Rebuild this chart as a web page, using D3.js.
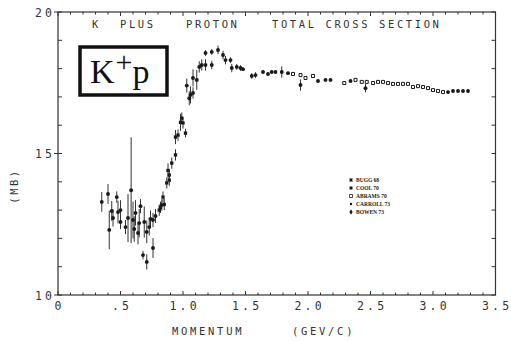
<!DOCTYPE html>
<html lang="en">
<head>
  <meta charset="UTF-8" />
  <title>K plus proton total cross section</title>
  <script src="https://d3js.org/d3.v7.min.js"></script>
  <style>
    body { margin: 0; background: #fff; }
    svg { display: block; }
    .lbl { font-family: 'DejaVu Sans Mono', monospace; fill: #333; }
    .leg { font-family: 'Liberation Serif', serif; font-size: 5.5px; font-weight: bold; fill: #222; }
  </style>
</head>
<body>
  <svg width="511" height="341"></svg>
  <script>
    // [momentum GeV/c, sigma mb, error mb]
    const bugg68 = [
      [0.35, 13.29, 0.35], [0.40, 13.57, 0.35], [0.41, 12.30, 0.68], [0.43, 12.97, 0.35],
      [0.44, 12.72, 0.30], [0.47, 13.46, 0.20], [0.48, 12.93, 0.40], [0.50, 13.00, 0.35],
      [0.50, 12.58, 0.25], [0.54, 12.40, 0.25], [0.56, 12.72, 0.85], [0.585, 13.70, 1.87],
      [0.60, 12.65, 0.65], [0.61, 12.33, 0.45], [0.62, 12.90, 0.45], [0.64, 12.19, 0.40],
      [0.65, 12.54, 0.50], [0.66, 13.14, 0.25], [0.68, 11.41, 0.15], [0.69, 12.58, 0.55],
      [0.71, 11.17, 0.27], [0.71, 12.23, 0.40], [0.73, 12.40, 0.30], [0.74, 12.69, 0.30],
      [0.76, 11.66, 0.35], [0.76, 12.65, 0.25], [0.78, 12.79, 0.25]
    ];
    const cool70 = [
      [0.81, 13.00, 0.20], [0.82, 13.10, 0.20], [0.83, 13.18, 0.20], [0.84, 13.46, 0.20],
      [0.85, 13.20, 0.20], [0.87, 13.96, 0.20], [0.88, 14.40, 0.25], [0.89, 14.06, 0.20],
      [0.89, 14.24, 0.20], [0.91, 14.66, 0.20], [0.94, 14.95, 0.20], [0.94, 15.58, 0.25],
      [0.96, 15.65, 0.20], [0.98, 16.10, 0.30], [0.99, 16.25, 0.20], [1.00, 16.08, 0.20],
      [1.02, 15.72, 0.15]
    ];
    const bowen73 = [
      [1.03, 17.40, 0.25], [1.05, 16.95, 0.25], [1.06, 17.07, 0.30], [1.08, 17.14, 0.20],
      [1.08, 17.67, 0.30], [1.11, 17.60, 0.35], [1.13, 18.06, 0.20], [1.15, 18.13, 0.20],
      [1.18, 18.13, 0.20], [1.18, 18.55, 0.10], [1.23, 18.59, 0.10], [1.23, 18.13, 0.15],
      [1.28, 18.66, 0.15], [1.32, 18.48, 0.15], [1.34, 18.30, 0.15], [1.38, 18.30, 0.10],
      [1.39, 18.02, 0.15], [1.43, 18.06, 0.10], [1.46, 18.02, 0.10], [1.48, 17.98, 0.05],
      [1.55, 17.74, 0.10], [1.58, 17.77, 0.10]
    ];
    const carroll73 = [
      [1.64, 17.88, 0.05], [1.68, 17.81, 0.05], [1.71, 17.88, 0.05], [1.74, 17.88, 0.05],
      [1.79, 17.88, 0.20], [1.84, 17.84, 0.05], [1.94, 17.42, 0.20], [2.08, 17.56, 0.05],
      [2.14, 17.60, 0.05], [2.18, 17.60, 0.05], [2.34, 17.56, 0.05], [2.46, 17.31, 0.15],
      [3.12, 17.17, 0.05], [3.16, 17.21, 0.05], [3.20, 17.21, 0.05], [3.24, 17.21, 0.05],
      [3.28, 17.21, 0.05]
    ];
    const abrams70 = [
      [1.88, 17.81, 0], [1.94, 17.77, 0], [1.98, 17.67, 0], [2.04, 17.74, 0],
      [2.29, 17.49, 0], [2.38, 17.60, 0], [2.43, 17.53, 0], [2.47, 17.53, 0],
      [2.52, 17.49, 0], [2.56, 17.53, 0], [2.60, 17.53, 0], [2.64, 17.49, 0],
      [2.68, 17.46, 0], [2.72, 17.46, 0], [2.76, 17.46, 0], [2.80, 17.46, 0],
      [2.84, 17.35, 0], [2.88, 17.38, 0], [2.92, 17.35, 0], [2.96, 17.31, 0],
      [3.00, 17.24, 0], [3.04, 17.21, 0], [3.08, 17.17, 0]
    ];
    const xTicks = [0, 0.5, 1.0, 1.5, 2.0, 2.5, 3.0, 3.5];
    const xTickLabels = ["0", ".5", "1.0", "1.5", "2.0", "2.5", "3.0", "3.5"];
    const yTicks = [10, 15, 20];
    const titleWords = [["K", 92], ["PLUS", 120], ["PROTON", 186], ["TOTAL CROSS SECTION", 272]];
    const xTitleWords = [["MOMENTUM", 172], ["(GEV/C)", 292]];
    const legendNames = ["BUGG 68", "COOL 70", "ABRAMS 70", "CARROLL 73", "BOWEN 73"];

    const svg = d3.select("svg");
    const x = d3.scaleLinear().domain([0, 3.5]).range([58, 495.5]);
    const y = d3.scaleLinear().domain([10, 20]).range([295, 12]);
    const ink = "#1a1a1a";
    const spacing = 3.2;

    // frame
    svg.append("rect")
      .attr("x", x(0)).attr("y", y(20))
      .attr("width", x(3.5) - x(0)).attr("height", y(10) - y(20))
      .attr("fill", "none").attr("stroke", "#333").attr("stroke-width", 1.2);

    // ticks
    const g = svg.append("g").attr("stroke", "#333").attr("stroke-width", 1);
    d3.range(0, 3.501, 0.1).forEach(v => {
      const major = Math.abs(v * 2 - Math.round(v * 2)) < 1e-6;
      const len = major ? 4 : 2.5;
      g.append("line").attr("x1", x(v)).attr("x2", x(v)).attr("y1", y(10)).attr("y2", y(10) - len);
      g.append("line").attr("x1", x(v)).attr("x2", x(v)).attr("y1", y(20)).attr("y2", y(20) + len);
    });
    d3.range(10, 20.01, 1).forEach(v => {
      g.append("line").attr("x1", x(0)).attr("x2", x(0) + 4).attr("y1", y(v)).attr("y2", y(v));
      g.append("line").attr("x1", x(3.5)).attr("x2", x(3.5) - 4).attr("y1", y(v)).attr("y2", y(v));
    });
    yTicks.forEach(v => {
      g.append("line").attr("x1", x(0) - 4).attr("x2", x(0)).attr("y1", y(v)).attr("y2", y(v));
    });

    // tick labels (plotter-style, letter-spaced)
    svg.selectAll(".xl").data(xTicks).join("text")
      .attr("class", "lbl").attr("x", d => x(d) + spacing / 2).attr("y", 310)
      .attr("text-anchor", "middle").attr("font-size", 11.5)
      .attr("letter-spacing", spacing)
      .text((d, i) => xTickLabels[i]);
    svg.selectAll(".yl").data(yTicks).join("text")
      .attr("class", "lbl").attr("x", 35).attr("y", d => y(d) + 4.5)
      .attr("font-size", 11.5).attr("letter-spacing", spacing)
      .text(d => d);

    xTitleWords.forEach(([w, px]) => {
      svg.append("text").attr("class", "lbl").attr("x", px).attr("y", 335)
        .attr("font-size", 10.5).attr("letter-spacing", 2.7).text(w);
    });
    svg.append("text").attr("class", "lbl")
      .attr("transform", "translate(18,186) rotate(-90)")
      .attr("text-anchor", "middle").attr("font-size", 10.5)
      .attr("letter-spacing", 2.5).text("(MB)");

    titleWords.forEach(([w, px]) => {
      svg.append("text").attr("class", "lbl").attr("x", px).attr("y", 28)
        .attr("font-size", 10.5).attr("letter-spacing", 2.6)
        .attr("xml:space", "preserve").text(w);
    });

    // K+p box
    svg.append("rect").attr("x", 80).attr("y", 47).attr("width", 87).attr("height", 48)
      .attr("fill", "none").attr("stroke", "#111").attr("stroke-width", 3.5);
    const kp = svg.append("text").attr("x", 90).attr("y", 83)
      .attr("font-family", "'Liberation Serif', serif").attr("font-size", 34).attr("fill", "#111");
    kp.append("tspan").text("K");
    kp.append("tspan").attr("dy", -11).attr("dx", 1).attr("font-size", 30).text("+");
    kp.append("tspan").attr("dy", 11).attr("dx", 0).text("p");

    // error bars + markers
    const all = [
      { data: bugg68, type: "dot" }, { data: cool70, type: "sq" },
      { data: bowen73, type: "dot" }, { data: carroll73, type: "dot" },
      { data: abrams70, type: "open" }
    ];
    all.forEach(s => {
      svg.append("g").selectAll("line").data(s.data.filter(d => d[2] > 0)).join("line")
        .attr("x1", d => x(d[0])).attr("x2", d => x(d[0]))
        .attr("y1", d => y(d[1] - d[2])).attr("y2", d => y(d[1] + d[2]))
        .attr("stroke", "#333").attr("stroke-width", 1);
      const m = svg.append("g").selectAll("path").data(s.data).join("path")
        .attr("transform", d => `translate(${x(d[0])},${y(d[1])})`);
      if (s.type === "dot") {
        m.attr("d", d3.symbol(d3.symbolCircle, 12)).attr("fill", ink);
      } else if (s.type === "sq") {
        m.attr("d", d3.symbol(d3.symbolSquare, 11)).attr("fill", ink);
      } else {
        m.attr("d", d3.symbol(d3.symbolSquare, 9)).attr("fill", "#fff")
          .attr("stroke", ink).attr("stroke-width", 1);
      }
    });

    // legend
    const legSym = [d3.symbolCross, d3.symbolSquare, d3.symbolSquare, d3.symbolCircle, d3.symbolDiamond];
    legendNames.forEach((name, i) => {
      const ly = 180 + i * 8;
      const p = svg.append("path")
        .attr("transform", `translate(351,${ly})` + (i === 0 ? " rotate(45)" : ""))
        .attr("d", d3.symbol(legSym[i], i === 3 ? 5 : 9));
      if (i === 2) p.attr("fill", "#fff").attr("stroke", ink).attr("stroke-width", 0.8);
      else p.attr("fill", ink);
      svg.append("text").attr("class", "leg").attr("x", 356).attr("y", ly + 2).text(name);
    });
  </script>
</body>
</html>
